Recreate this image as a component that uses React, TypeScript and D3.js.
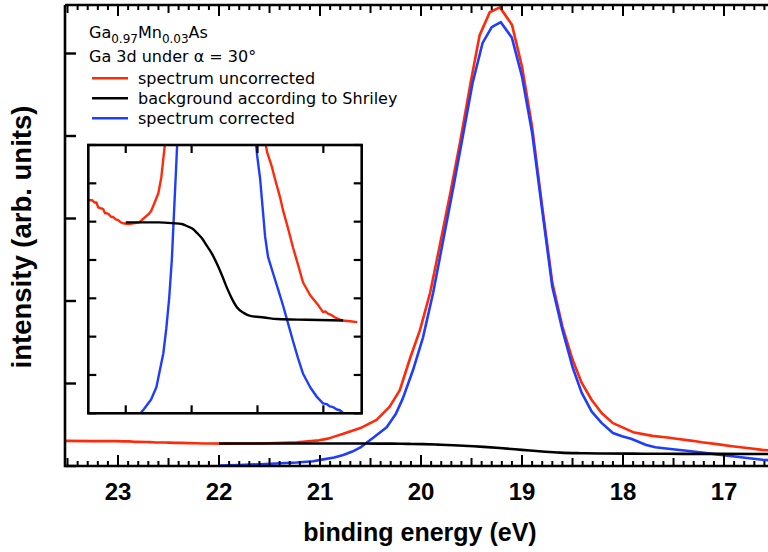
import React from 'react';
import * as d3 from 'd3';

const W = 768;
const H = 552;

// Ga 3d photoemission spectrum, binding energy (eV) vs intensity (arb. units)
const uncorrected: [number, number][] = [
  [23.52, 0.304], [23.25, 0.302], [23.02, 0.302], [22.95, 0.299], [22.89, 0.299],
  [22.84, 0.293], [22.8, 0.292], [22.72, 0.291], [22.68, 0.29], [22.63, 0.285],
  [22.59, 0.285], [22.53, 0.284], [22.5, 0.283], [22.44, 0.28], [22.38, 0.28],
  [22.3, 0.277], [22.23, 0.276], [22.15, 0.273], [22.08, 0.272], [21.92, 0.271],
  [21.77, 0.272], [21.59, 0.273], [21.44, 0.279], [21.3, 0.284], [21.23, 0.288],
  [21.14, 0.297], [21.01, 0.311], [20.92, 0.332], [20.86, 0.356], [20.77, 0.39],
  [20.6, 0.46], [20.44, 0.56], [20.31, 0.72], [20.21, 0.92], [20.11, 1.3],
  [20.01, 1.65], [19.91, 2.1], [19.81, 2.7], [19.71, 3.31], [19.61, 3.95],
  [19.51, 4.64], [19.42, 5.22], [19.32, 5.5], [19.22, 5.56], [19.1, 5.35],
  [19.0, 4.84], [18.9, 4.11], [18.8, 3.14], [18.7, 2.22], [18.6, 1.69],
  [18.5, 1.29], [18.41, 1.01], [18.31, 0.8], [18.21, 0.64], [18.1, 0.52],
  [17.9, 0.41], [17.71, 0.365], [17.56, 0.345], [17.47, 0.33], [17.31, 0.305],
  [17.22, 0.288], [17.07, 0.265], [16.92, 0.24], [16.77, 0.218], [16.62, 0.195],
  [16.4, 0.178], [16.19, 0.167], [16.01, 0.156], [15.94, 0.157], [15.86, 0.154],
  [15.75, 0.152], [15.64, 0.149], [15.43, 0.145], [15.19, 0.144], [14.97, 0.143],
];

// Shirley-type background
const background: [number, number][] = [
  [22.0, 0.273], [21.0, 0.273], [20.56, 0.272], [20.3, 0.271], [20.13, 0.268],
  [19.98, 0.265], [19.83, 0.259], [19.68, 0.252], [19.53, 0.242], [19.38, 0.232],
  [19.22, 0.218], [19.07, 0.203], [18.92, 0.187], [18.77, 0.173], [18.62, 0.162],
  [18.42, 0.155], [18.22, 0.151], [17.8, 0.149], [17.4, 0.147], [16.5, 0.146],
  [15.4, 0.145],
];

// spectrum after background subtraction
const corrected: [number, number][] = [
  [22.0, 0.006], [21.8, 0.012], [21.59, 0.022], [21.44, 0.03], [21.23, 0.042],
  [21.07, 0.058], [20.98, 0.077], [20.86, 0.102], [20.77, 0.134], [20.68, 0.175],
  [20.6, 0.225], [20.53, 0.29], [20.47, 0.345], [20.34, 0.47], [20.25, 0.63],
  [20.18, 0.82], [20.08, 1.16], [19.98, 1.56], [19.88, 2.1], [19.78, 2.74],
  [19.68, 3.38], [19.58, 4.04], [19.49, 4.64], [19.39, 5.13], [19.3, 5.32],
  [19.21, 5.38], [19.1, 5.19], [19.0, 4.72], [18.9, 4.04], [18.8, 3.1],
  [18.7, 2.17], [18.6, 1.65], [18.5, 1.2], [18.41, 0.89], [18.31, 0.66],
  [18.21, 0.52], [18.1, 0.4], [18.01, 0.36], [17.92, 0.33], [17.86, 0.3],
  [17.77, 0.255], [17.68, 0.228], [17.53, 0.207], [17.37, 0.185], [17.22, 0.164],
  [17.07, 0.141], [16.92, 0.118], [16.77, 0.096], [16.62, 0.076], [16.4, 0.058],
  [16.19, 0.045], [16.01, 0.037], [15.9, 0.036], [15.8, 0.033], [15.7, 0.032],
  [15.59, 0.029], [15.5, 0.028], [15.41, 0.025],
];

const xTickLabels = [23, 22, 21, 20, 19, 18, 17];
const yMajorTicks = [0, 1, 2, 3, 4, 5];
const insetXTicks = [22, 20, 18, 16];

const RED = '#ff2a0a';
const BLUE = '#1f3dff';
const BLACK = '#000';

const legendItems = [
  { label: 'spectrum uncorrected', color: RED },
  { label: 'background according to Shriley', color: BLACK },
  { label: 'spectrum corrected', color: BLUE },
];

export default function App() {
  // main panel scales
  const x = d3.scaleLinear().domain([23.525, 16.0]).range([65, 65 + 7.525 * 101]);
  const y = d3.scaleLinear().domain([0, 5.588]).range([466, 5]);

  // inset scales
  const ix = d3.scaleLinear().domain([23.137, 14.836]).range([88.3, 361.7]);
  const iy = d3.scaleLinear().domain([0.024, 0.374]).range([413.3, 145]);

  const mainLine = d3.line<[number, number]>().x((d) => x(d[0])).y((d) => y(d[1]));
  const mainSmooth = d3
    .line<[number, number]>()
    .x((d) => x(d[0]))
    .y((d) => y(d[1]))
    .curve(d3.curveMonotoneX);
  const insetLine = d3.line<[number, number]>().x((d) => ix(d[0])).y((d) => iy(d[1]));
  const insetSmooth = d3
    .line<[number, number]>()
    .x((d) => ix(d[0]))
    .y((d) => iy(d[1]))
    .curve(d3.curveMonotoneX);

  // minor / mid / major ticks every 0.1 eV
  const xMinor = d3.range(160, 236).map((i) => i / 10).filter((e) => e <= 23.525);
  const tickLen = (e: number) => {
    const k = Math.round(e * 10);
    if (k % 10 === 0) return 11;
    if (k % 5 === 0) return 8;
    return 5;
  };

  const [x0, x1] = x.range();
  const [yb, yt] = y.range();

  const insetYTicks = d3.range(8).map((k) => 0.024 + k * 0.05);
  const [ix0, ix1] = ix.range();
  const [iyb, iyt] = iy.range();

  const lineFont = "'DejaVu Sans', sans-serif";
  const boldFont = "'Liberation Sans', Arial, sans-serif";

  return (
    <svg
      width={W}
      height={H}
      viewBox={`0 0 ${W} ${H}`}
      style={{ position: 'absolute', left: 0, top: 0, background: '#fff' }}
    >
      <defs>
        <clipPath id="main-clip">
          <rect x={x0} y={yt} width={x1 - x0} height={yb - yt} />
        </clipPath>
        <clipPath id="inset-clip">
          <rect x={ix0} y={iyt} width={ix1 - ix0} height={iyb - iyt} />
        </clipPath>
      </defs>
      <rect x={0} y={0} width={W} height={H} fill="#fff" />

      {/* main spectra */}
      <g clipPath="url(#main-clip)" fill="none" strokeWidth={2.6} strokeLinejoin="round">
        <path d={mainLine(uncorrected) ?? ''} stroke={RED} />
        <path d={mainLine(corrected) ?? ''} stroke={BLUE} />
        <path d={mainSmooth(background) ?? ''} stroke={BLACK} />
      </g>

      {/* main frame */}
      <g stroke={BLACK} fill="none">
        <path d={`M${x0},${yt} V${yb} H${x1}`} strokeWidth={2.6} />
        <path d={`M${x0},${yt} H${x1}`} strokeWidth={2.6} />
        {xMinor.map((e) => (
          <g key={`xt${e}`}>
            <line x1={x(e)} x2={x(e)} y1={yb} y2={yb - tickLen(e)} strokeWidth={2} />
            <line x1={x(e)} x2={x(e)} y1={yt} y2={yt + tickLen(e)} strokeWidth={2} />
          </g>
        ))}
        {yMajorTicks.map((v) => (
          <line key={`yt${v}`} x1={x0} x2={x0 + 11} y1={y(v)} y2={y(v)} strokeWidth={2.4} />
        ))}
      </g>

      {/* x tick labels */}
      <g fontFamily={boldFont} fontWeight="bold" fontSize={24} textAnchor="middle" fill={BLACK}>
        {xTickLabels.map((e) => (
          <text key={`xl${e}`} x={x(e)} y={500}>
            {e}
          </text>
        ))}
      </g>

      {/* axis titles */}
      <text
        x={420}
        y={541}
        fontFamily={boldFont}
        fontWeight="bold"
        fontSize={25}
        textAnchor="middle"
      >
        binding energy (eV)
      </text>
      <text
        transform="translate(31,237) rotate(-90)"
        fontFamily={boldFont}
        fontWeight="bold"
        fontSize={27.5}
        textAnchor="middle"
      >
        intensity (arb. units)
      </text>

      {/* legend */}
      <g fontFamily={lineFont} fontSize={16} fill={BLACK}>
        <text x={89} y={38}>
          Ga
          <tspan fontSize={12} dy={5}>0.97</tspan>
          <tspan dy={-5}>Mn</tspan>
          <tspan fontSize={12} dy={5}>0.03</tspan>
          <tspan dy={-5}>As</tspan>
        </text>
        <text x={89} y={62}>
          Ga 3d under α = 30°
        </text>
        {legendItems.map((item, i) => (
          <g key={item.label}>
            <line
              x1={92}
              x2={128}
              y1={78.3 + i * 20}
              y2={78.3 + i * 20}
              stroke={item.color}
              strokeWidth={2.4}
            />
            <text x={138} y={83.8 + i * 20}>
              {item.label}
            </text>
          </g>
        ))}
      </g>

      {/* inset: low-intensity region */}
      <rect x={ix0} y={iyt} width={ix1 - ix0} height={iyb - iyt} fill="#fff" />
      <g clipPath="url(#inset-clip)" fill="none" strokeWidth={2.4} strokeLinejoin="round">
        <path d={insetLine(uncorrected) ?? ''} stroke={RED} />
        <path d={insetLine(corrected) ?? ''} stroke={BLUE} />
        <path d={insetSmooth(background) ?? ''} stroke={BLACK} />
      </g>
      <g stroke={BLACK} fill="none">
        <rect x={ix0} y={iyt} width={ix1 - ix0} height={iyb - iyt} strokeWidth={2.6} />
        {insetXTicks.map((e) => (
          <g key={`ixt${e}`}>
            <line x1={ix(e)} x2={ix(e)} y1={iyb} y2={iyb - 8} strokeWidth={2.2} />
            <line x1={ix(e)} x2={ix(e)} y1={iyt} y2={iyt + 8} strokeWidth={2.2} />
          </g>
        ))}
        {insetYTicks.map((v, i) => (
          <g key={`iyt${i}`}>
            <line x1={ix0} x2={ix0 + 8} y1={iy(v)} y2={iy(v)} strokeWidth={2.2} />
            <line x1={ix1} x2={ix1 - 8} y1={iy(v)} y2={iy(v)} strokeWidth={2.2} />
          </g>
        ))}
      </g>
    </svg>
  );
}
